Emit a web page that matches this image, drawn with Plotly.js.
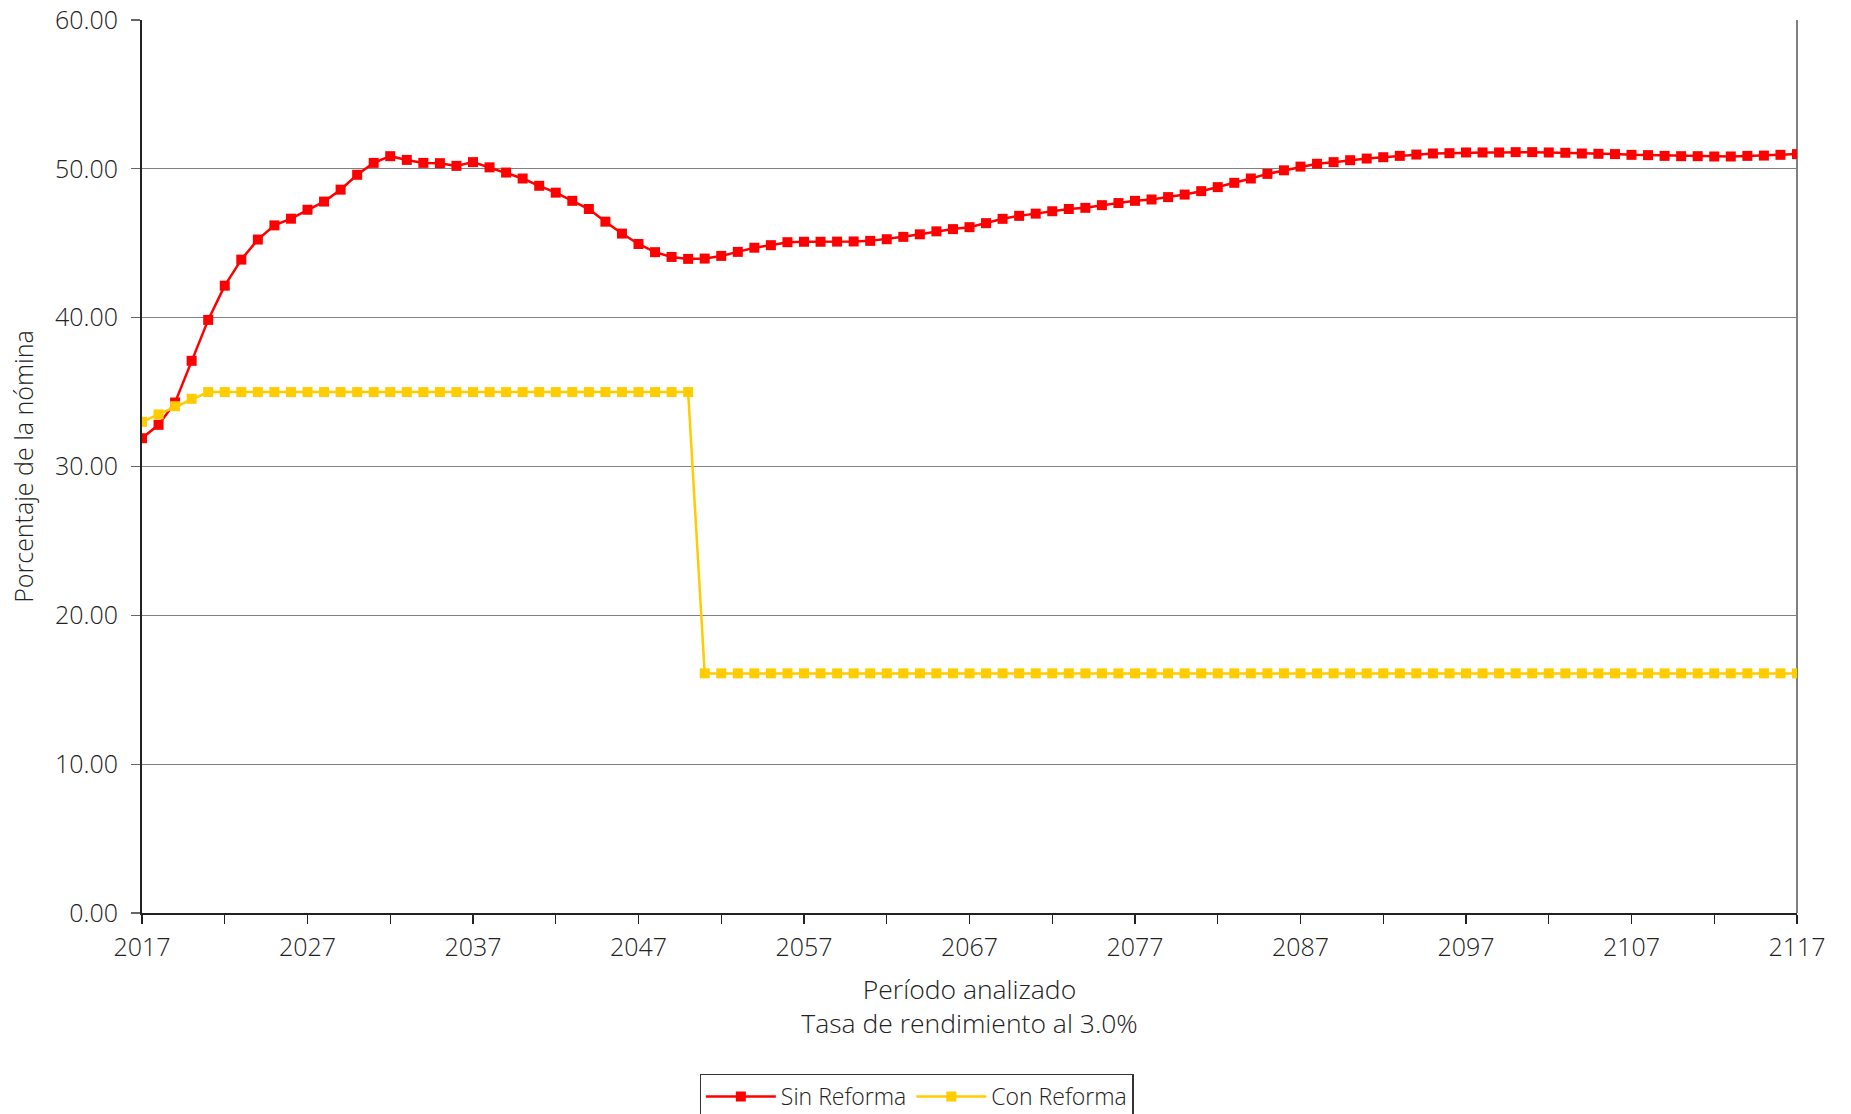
<!DOCTYPE html>
<html>
<head>
<meta charset="utf-8">
<script src="https://cdn.plot.ly/plotly-3.0.1.min.js"></script>
<style>html,body{margin:0;padding:0;background:#fff;}#chart{width:1851px;height:1114px;}</style>
</head>
<body>
<div id="chart"></div>
<script>
var years = [];
for (var yr = 2017; yr <= 2117; yr++) years.push(yr);

var sinReforma = [
  31.9, 32.8, 34.3, 37.1, 39.85, 42.15, 43.9, 45.25, 46.2, 46.65,
  47.25, 47.8, 48.6, 49.6, 50.4, 50.85, 50.6, 50.4, 50.38, 50.2,
  50.45, 50.1, 49.75, 49.35, 48.86, 48.4, 47.85, 47.3, 46.45, 45.65,
  44.95, 44.4, 44.08, 43.95, 43.97, 44.15, 44.42, 44.7, 44.87, 45.07,
  45.1, 45.1, 45.11, 45.12, 45.16, 45.27, 45.43, 45.6, 45.8, 45.95,
  46.08, 46.35, 46.64, 46.84, 46.99, 47.15, 47.3, 47.38, 47.56, 47.7,
  47.85, 47.94, 48.1, 48.27, 48.5, 48.77, 49.06, 49.35, 49.66, 49.9,
  50.15, 50.34, 50.45, 50.58, 50.69, 50.78, 50.87, 50.96, 51.03, 51.05,
  51.1, 51.1, 51.1, 51.12, 51.12, 51.1, 51.08, 51.03, 51.01, 50.99,
  50.94, 50.92, 50.87, 50.85, 50.85, 50.83, 50.83, 50.87, 50.89, 50.94,
  50.99
];

var conReforma = [
  33.0, 33.5, 34.05, 34.55,
  35.0, 35.0, 35.0, 35.0, 35.0, 35.0, 35.0, 35.0, 35.0, 35.0,
  35.0, 35.0, 35.0, 35.0, 35.0, 35.0, 35.0, 35.0, 35.0, 35.0,
  35.0, 35.0, 35.0, 35.0, 35.0, 35.0, 35.0, 35.0, 35.0, 35.0,
  16.1, 16.1, 16.1, 16.1, 16.1, 16.1, 16.1, 16.1, 16.1, 16.1,
  16.1, 16.1, 16.1, 16.1, 16.1, 16.1, 16.1, 16.1, 16.1, 16.1,
  16.1, 16.1, 16.1, 16.1, 16.1, 16.1, 16.1, 16.1, 16.1, 16.1,
  16.1, 16.1, 16.1, 16.1, 16.1, 16.1, 16.1, 16.1, 16.1, 16.1,
  16.1, 16.1, 16.1, 16.1, 16.1, 16.1, 16.1, 16.1, 16.1, 16.1,
  16.1, 16.1, 16.1, 16.1, 16.1, 16.1, 16.1, 16.1, 16.1, 16.1,
  16.1, 16.1, 16.1, 16.1, 16.1, 16.1, 16.1
];

var xTickVals = [2017, 2022, 2027, 2032, 2037, 2042, 2047, 2052, 2057, 2062, 2067, 2072, 2077, 2082, 2087, 2092, 2097, 2102, 2107, 2112, 2117];
var xTickText = ['2017', '', '2027', '', '2037', '', '2047', '', '2057', '', '2067', '', '2077', '', '2087', '', '2097', '', '2107', '', '2117'];

var seriesNames = ['Sin Reforma', 'Con Reforma'];
var xTitle = 'Período analizado<br>Tasa de rendimiento al 3.0%';
var yTitle = 'Porcentaje de la nómina';

var FONT = '"Open Sans", "Noto Sans", sans-serif';
var TXT = '#222';

var traces = [
  {
    x: years, y: sinReforma, name: seriesNames[0], type: 'scatter', mode: 'lines+markers',
    line: {color: '#FF0000', width: 2.5},
    marker: {symbol: 'square', size: 10, color: '#FF0000'}
  },
  {
    x: years, y: conReforma, name: seriesNames[1], type: 'scatter', mode: 'lines+markers',
    line: {color: '#FFCC00', width: 2.5},
    marker: {symbol: 'square', size: 10, color: '#FFCC00'}
  }
];

var layout = {
  width: 1851, height: 1114,
  paper_bgcolor: '#fff', plot_bgcolor: '#fff',
  margin: {l: 142, r: 54, t: 20, b: 201, autoexpand: false},
  font: {family: FONT, size: 24, color: TXT, weight: 300},
  showlegend: true,
  xaxis: {
    range: [2017, 2117],
    tickmode: 'array', tickvals: xTickVals, ticktext: xTickText,
    ticks: 'outside', ticklen: 9, tickwidth: 1.3, tickcolor: '#222',
    ticklabelstandoff: 2,
    showline: true, linecolor: '#222', linewidth: 2,
    showgrid: false, zeroline: false,
    tickfont: {family: FONT, size: 25, color: TXT, weight: 300},
    title: {text: xTitle, font: {family: FONT, size: 26.5, color: TXT, weight: 300}, standoff: 18}
  },
  yaxis: {
    range: [0, 60],
    tickmode: 'array', tickvals: [0, 10, 20, 30, 40, 50, 60],
    tickformat: '.2f',
    ticks: 'outside', ticklen: 9, tickwidth: 1.3, tickcolor: '#666',
    ticklabelstandoff: 8,
    showline: true, linecolor: '#222', linewidth: 2,
    showgrid: true, gridcolor: '#808080', gridwidth: 1.3,
    zeroline: false,
    tickfont: {family: FONT, size: 25, color: TXT, weight: 300},
    title: {text: yTitle, font: {family: FONT, size: 25, color: TXT, weight: 300}, standoff: 14}
  },
  shapes: [
    {type: 'line', xref: 'paper', yref: 'paper', x0: 1, x1: 1, y0: 0, y1: 1,
     line: {color: '#808080', width: 2}, layer: 'below'}
  ],
  legend: {
    orientation: 'h',
    x: 0.468, xanchor: 'center',
    y: -0.18, yanchor: 'top',
    bordercolor: '#333', borderwidth: 1.3,
    bgcolor: '#fff',
    font: {family: FONT, size: 23, color: TXT, weight: 300},
    itemwidth: 70
  }
};

Plotly.newPlot('chart', traces, layout, {displayModeBar: false, staticPlot: true});
</script>
</body>
</html>
